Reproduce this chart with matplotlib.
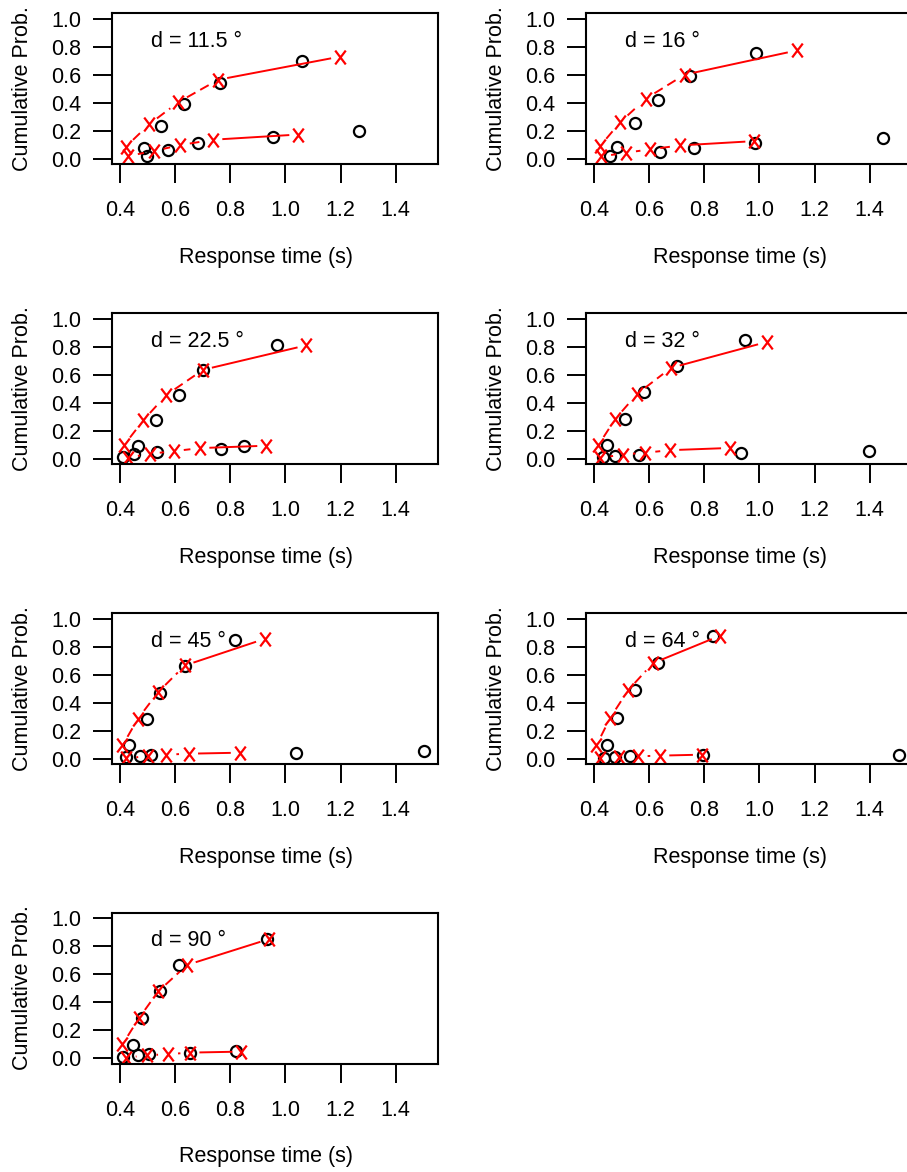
import matplotlib
matplotlib.use('Agg')
import matplotlib.pyplot as plt
import numpy as np
from matplotlib.path import Path

plt.rcParams['font.family'] = ['Liberation Sans', 'DejaVu Sans']

# 条件（角度）
angles = ['11.5', '16', '22.5', '32', '45', '64', '90']

# 観測データ（正答）: RT分位点と累積確率
obs_cor_rt = [[0.487, 0.549, 0.633, 0.765, 1.060],
              [0.484, 0.551, 0.633, 0.749, 0.987],
              [0.466, 0.533, 0.614, 0.702, 0.971],
              [0.448, 0.514, 0.583, 0.701, 0.948],
              [0.434, 0.500, 0.547, 0.636, 0.817],
              [0.448, 0.484, 0.551, 0.633, 0.831],
              [0.448, 0.479, 0.547, 0.615, 0.934]]
obs_cor_p = [[0.078, 0.232, 0.388, 0.543, 0.701],
             [0.085, 0.252, 0.418, 0.589, 0.755],
             [0.093, 0.277, 0.456, 0.638, 0.816],
             [0.096, 0.285, 0.474, 0.663, 0.851],
             [0.095, 0.286, 0.471, 0.662, 0.850],
             [0.099, 0.293, 0.488, 0.683, 0.876],
             [0.095, 0.285, 0.475, 0.665, 0.850]]

# 観測データ（誤答）
obs_err_rt = [[0.497, 0.575, 0.684, 0.955, 1.268],
              [0.458, 0.641, 0.765, 0.984, 1.448],
              [0.412, 0.451, 0.535, 0.766, 0.849],
              [0.434, 0.478, 0.565, 0.935, 1.398],
              [0.422, 0.472, 0.515, 1.038, 1.503],
              [0.436, 0.476, 0.533, 0.795, 1.506],
              [0.412, 0.466, 0.506, 0.656, 0.823]]
obs_err_p = [[0.020, 0.063, 0.109, 0.154, 0.201],
             [0.018, 0.048, 0.079, 0.114, 0.145],
             [0.013, 0.031, 0.050, 0.071, 0.093],
             [0.009, 0.018, 0.030, 0.042, 0.053],
             [0.009, 0.018, 0.030, 0.042, 0.054],
             [0.008, 0.014, 0.018, 0.027, 0.030],
             [0.006, 0.018, 0.029, 0.038, 0.048]]

# モデル予測（正答）
mod_cor_rt = [[0.422, 0.506, 0.612, 0.757, 1.198],
              [0.422, 0.496, 0.589, 0.729, 1.135],
              [0.415, 0.485, 0.569, 0.702, 1.076],
              [0.416, 0.478, 0.557, 0.680, 1.027],
              [0.410, 0.466, 0.539, 0.636, 0.925],
              [0.410, 0.460, 0.524, 0.614, 0.858],
              [0.410, 0.470, 0.539, 0.644, 0.941]]
mod_cor_p = [[0.085, 0.245, 0.404, 0.565, 0.730],
             [0.088, 0.261, 0.430, 0.601, 0.774],
             [0.095, 0.274, 0.456, 0.636, 0.811],
             [0.095, 0.284, 0.463, 0.650, 0.835],
             [0.095, 0.286, 0.476, 0.667, 0.857],
             [0.097, 0.293, 0.488, 0.683, 0.880],
             [0.097, 0.285, 0.475, 0.665, 0.850]]

# モデル予測（誤答）
mod_err_rt = [[0.430, 0.523, 0.618, 0.739, 1.047],
              [0.427, 0.517, 0.605, 0.713, 0.982],
              [0.430, 0.509, 0.596, 0.692, 0.931],
              [0.424, 0.506, 0.587, 0.677, 0.894],
              [0.424, 0.503, 0.569, 0.651, 0.835],
              [0.424, 0.490, 0.559, 0.641, 0.792],
              [0.422, 0.497, 0.575, 0.656, 0.841]]
mod_err_p = [[0.019, 0.055, 0.097, 0.136, 0.173],
             [0.016, 0.043, 0.067, 0.095, 0.126],
             [0.008, 0.035, 0.054, 0.076, 0.093],
             [0.007, 0.030, 0.043, 0.061, 0.077],
             [0.003, 0.019, 0.029, 0.036, 0.043],
             [0.004, 0.011, 0.017, 0.022, 0.029],
             [0.002, 0.018, 0.027, 0.038, 0.045]]

xticks = [0.4, 0.6, 0.8, 1.0, 1.2, 1.4]
yticks = [0.0, 0.2, 0.4, 0.6, 0.8, 1.0]

W, H = 907, 1172
fig = plt.figure(figsize=(W / 100, H / 100), dpi=100)

# X印（Rの "X" 風）
xmark = Path([(-0.38, -0.5), (0.38, 0.5), (-0.38, 0.5), (0.38, -0.5)],
             [Path.MOVETO, Path.LINETO, Path.MOVETO, Path.LINETO])


def draw_b(ax, xs, ys, gap=10):
    # type="b" 風：点の周りに隙間を空けて線分を描く
    trans = ax.transData
    pts = trans.transform(np.column_stack([xs, ys]))
    inv = trans.inverted()
    n = len(xs)
    for i in range(n - 1):
        d = pts[i + 1] - pts[i]
        L = np.hypot(d[0], d[1])
        if L <= 2 * gap:
            continue
        u = d / L
        a = inv.transform(pts[i] + u * gap)
        b = inv.transform(pts[i + 1] - u * gap)
        ls = '-' if i == n - 2 else (0, (5, 2.8))
        ax.plot([a[0], b[0]], [a[1], b[1]], color='red', lw=1.4, ls=ls)


box_w, box_h = 326, 151
lefts = [112, 586]
tops = [13.3, 313.3, 613.3, 912.5]

for k in range(len(angles)):
    r, c = divmod(k, 2)
    l, t = lefts[c], tops[r]
    ax = fig.add_axes([l / W, 1 - (t + box_h) / H, box_w / W, box_h / H])
    ax.set_xlim(0.372, 1.553)
    ax.set_ylim(-0.04, 1.04)

    ax.plot(obs_cor_rt[k], obs_cor_p[k], 'o', mfc='none', mec='black', ms=8, mew=1.6)
    ax.plot(obs_err_rt[k], obs_err_p[k], 'o', mfc='none', mec='black', ms=8, mew=1.6)
    draw_b(ax, mod_cor_rt[k], mod_cor_p[k])
    draw_b(ax, mod_err_rt[k], mod_err_p[k])
    ax.plot(mod_cor_rt[k], mod_cor_p[k], ls='none', marker=xmark, color='red', ms=10, mew=1.6)
    ax.plot(mod_err_rt[k], mod_err_p[k], ls='none', marker=xmark, color='red', ms=10, mew=1.6)

    ax.text(0.515, 0.84, 'd = ' + angles[k] + ' °', fontsize=15.5, ha='left', va='center')

    ax.set_xticks(xticks)
    ax.set_xticklabels(['%.1f' % v for v in xticks])
    ax.set_yticks(yticks)
    ax.set_yticklabels(['%.1f' % v for v in yticks])
    ax.tick_params(axis='x', length=14, width=1.4, pad=12, labelsize=15.5)
    ax.tick_params(axis='y', length=14, width=1.4, pad=8, labelsize=15.5)
    for s in ax.spines.values():
        s.set_linewidth(1.5)

    ax.text(0.472, -0.614, 'Response time (s)', fontsize=15.5, ha='center', va='center',
            transform=ax.transAxes)
    ax.text(-0.276, 0.5, 'Cumulative Prob.', fontsize=15.5, ha='center', va='center',
            rotation=90, transform=ax.transAxes)

plt.savefig('out.png', dpi=100)
